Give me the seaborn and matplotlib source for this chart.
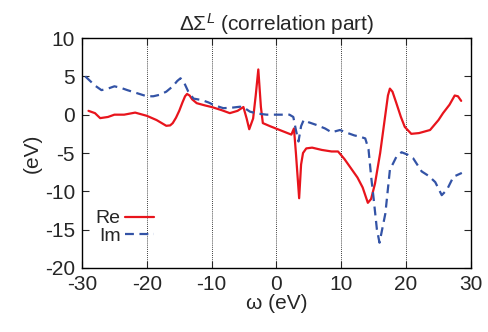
import matplotlib
matplotlib.use("Agg")
import matplotlib.pyplot as plt
import seaborn as sns
import pandas as pd

omega_re = [-29, -28, -27.2, -26, -25, -23.5, -21.8, -20, -18.5, -17.5, -17, -16.4, -16, -15.5,
            -15, -14.5, -14.1, -13.8, -13.4, -13.0, -12.3, -11, -10, -8.5, -7.2, -6, -5.1,
            -4.6, -4.2, -3.6, -3.2, -2.8, -2.4, -2.1, -1, 0.5, 2.3, 2.7, 3.0, 3.5, 3.8, 4.1,
            4.6, 5.5, 7, 8.5, 9.5, 10.5, 11.5, 12.5, 13.3, 14.1, 14.6, 15.2, 16, 16.8, 17.2,
            17.5, 17.9, 18.5, 19.2, 19.8, 20.8, 22, 23.7, 25, 25.7, 26.7, 27.5, 28.0, 28.5]
re_vals = [0.5, 0.2, -0.45, -0.3, 0, 0, 0.27, -0.15, -0.7, -1.2, -1.45, -1.4, -1.1, -0.4,
           0.5, 1.6, 2.4, 2.7, 2.5, 2.0, 1.5, 1.2, 1.0, 0.6, 0.2, 0.5, 1.0,
           -0.5, -1.9, -0.5, 2.5, 5.9, 1.0, -1.1, -1.5, -2.0, -2.6, -1.8, -5.0, -10.9, -6.5, -5.0,
           -4.4, -4.3, -4.6, -4.8, -4.8, -5.8, -7.0, -8.2, -9.5, -11.5, -11.0, -9.0, -5.0, 0.0, 2.5,
           3.4, 3.0, 1.5, -0.3, -1.6, -2.5, -2.4, -2.0, -0.7, 0.2, 1.3, 2.5, 2.4, 1.8]

omega_im = [-29.5, -29, -28, -27, -26, -25, -24, -23, -21.5, -20, -19, -18, -17, -16, -15.3,
            -14.8, -14.2, -13.6, -12.8, -11.5, -10.5, -9.5, -8.2, -7, -5.6, -4.8, -4.1, -3,
            -1.5, 0, 2.0, 2.6, 3.0, 3.4, 3.8, 4.2, 5, 6.2, 7.5, 8.5, 9.8, 11, 12, 13, 13.7,
            14.2, 14.6, 15, 15.5, 15.9, 16.3, 16.8, 17.5, 18.5, 19.3, 20.2, 21.1, 22.4, 23.5,
            24.5, 25.5, 26.3, 27.3, 28.6]
im_vals = [5.0, 4.6, 3.8, 3.2, 3.4, 3.7, 3.5, 3.2, 2.8, 2.4, 2.4, 2.6, 3.0, 3.7, 4.4,
           4.75, 4.1, 3.0, 2.1, 1.9, 1.6, 1.2, 0.85, 0.9, 1.04, 0.8, 0.4, 0.15,
           0.0, 0.0, 0.0, -0.3, -2.0, -3.5, -1.5, -0.7, -1.0, -1.35, -1.8, -2.3, -2.0, -2.4, -2.7,
           -2.9, -3.1, -4.5, -8.0, -11.0, -15.0, -16.7, -15.0, -12.9, -7.2, -5.5, -4.9, -5.2,
           -5.7, -7.4, -8.0, -8.8, -10.5, -9.8, -8.1, -7.6]

x_ticks = [-30, -20, -10, 0, 10, 20, 30]
y_ticks = [-20, -15, -10, -5, 0, 5, 10]

sns.set_style("ticks")
plt.rcParams['font.family'] = ['Liberation Sans', 'DejaVu Sans']
plt.rcParams['mathtext.fontset'] = 'custom'
plt.rcParams['mathtext.rm'] = 'Liberation Sans'
plt.rcParams['mathtext.it'] = 'Liberation Sans:italic'

fig = plt.figure(figsize=(4.89, 3.32), dpi=100)
ax = fig.add_axes([0.1677, 0.1928, 0.7953, 0.6927])

df_re = pd.DataFrame({"omega": omega_re, "val": re_vals})
df_im = pd.DataFrame({"omega": omega_im, "val": im_vals})

sns.lineplot(data=df_re, x="omega", y="val", ax=ax, sort=False, color="#e8141c",
             linewidth=1.6, label="Re")
sns.lineplot(data=df_im, x="omega", y="val", ax=ax, sort=False, color="#3353a6",
             linewidth=1.6, linestyle=(0, (4, 2.5)), label="Im")

ax.set_xlim(-30, 30)
ax.set_ylim(-20, 10)
ax.set_xticks(x_ticks)
ax.set_yticks(y_ticks)
ax.set_xticklabels([str(t) for t in x_ticks])
ax.set_yticklabels([str(t) for t in y_ticks])
ax.tick_params(direction="in", top=True, right=True, labelsize=15, length=5, width=0.8,
               pad=5)
for s in ax.spines.values():
    s.set_visible(True)
    s.set_linewidth(1.0)
    s.set_color("black")
for xv in x_ticks[1:-1]:
    ax.axvline(xv, color="black", linestyle=(0, (1, 1.5)), linewidth=0.6, zorder=0)

ax.set_xlabel("ω (eV)", fontsize=15, labelpad=0)
ax.set_ylabel("(eV)", fontsize=15, labelpad=2)
ax.set_title(r"$\Delta\Sigma^L$ (correlation part)", fontsize=15, pad=5)

leg = ax.legend(loc="lower left", bbox_to_anchor=(0.035, 0.10), frameon=False,
                markerfirst=False, fontsize=14, handlelength=1.5, handletextpad=0.2,
                labelspacing=0.0, borderaxespad=0, borderpad=0)

fig.savefig("out.png", dpi=100)
